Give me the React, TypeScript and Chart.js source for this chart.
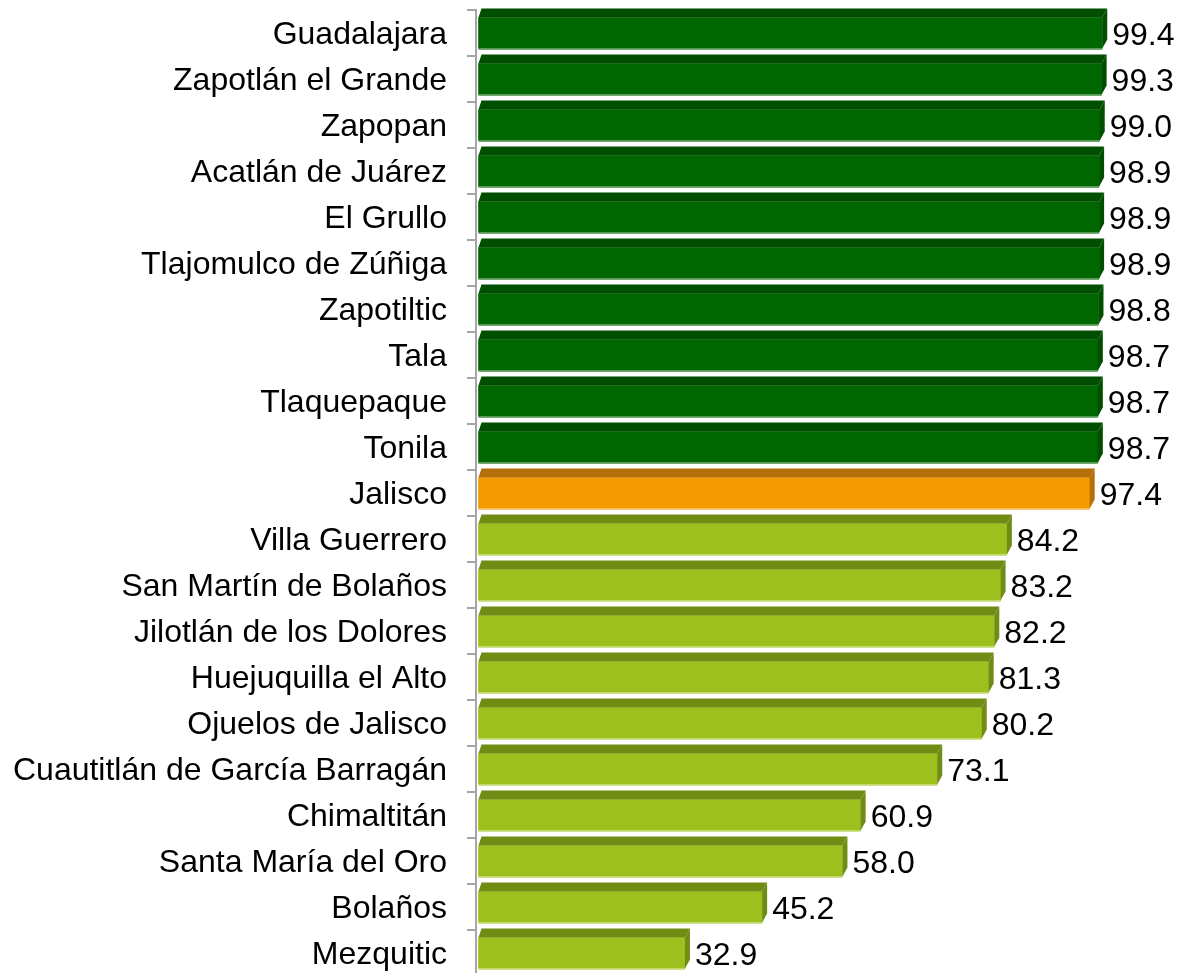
import React, { useEffect, useRef } from "react";
import { Chart, registerables } from "chart.js";

Chart.register(...registerables);

// Municipalities, ordered from highest to lowest, with the state total inserted in place
const municipios: string[] = [
  "Guadalajara",
  "Zapotlán el Grande",
  "Zapopan",
  "Acatlán de Juárez",
  "El Grullo",
  "Tlajomulco de Zúñiga",
  "Zapotiltic",
  "Tala",
  "Tlaquepaque",
  "Tonila",
  "Jalisco",
  "Villa Guerrero",
  "San Martín de Bolaños",
  "Jilotlán de los Dolores",
  "Huejuquilla el Alto",
  "Ojuelos de Jalisco",
  "Cuautitlán de García Barragán",
  "Chimaltitán",
  "Santa María del Oro",
  "Bolaños",
  "Mezquitic",
];

const porcentajes: number[] = [
  99.4, 99.3, 99.0, 98.9, 98.9, 98.9, 98.8, 98.7, 98.7, 98.7, 97.4, 84.2, 83.2,
  82.2, 81.3, 80.2, 73.1, 60.9, 58.0, 45.2, 32.9,
];

const TOP_COUNT = 10;
const STATE_LABEL = "Jalisco";

const FONT = '"Liberation Sans", Arial, sans-serif';
const FONT_SIZE = 32;

// Front, top/side and rim colours for each bar group
const palette = {
  top: { front: "#006600", depth: "#004f00", rim: "#6fa86f" },
  state: { front: "#f39a00", depth: "#b56f08", rim: "#f8c77a" },
  rest: { front: "#9dc01e", depth: "#708c15", rim: "#cfe08a" },
};

function groupOf(i: number) {
  if (municipios[i] === STATE_LABEL) return palette.state;
  if (i < TOP_COUNT) return palette.top;
  return palette.rest;
}

const DX = 5;
const DY = 9;

// Extrudes each bar into a box and writes its value at the end
const boxPlugin = {
  id: "boxBars",
  afterDatasetsDraw(chart: any) {
    const ctx = chart.ctx as CanvasRenderingContext2D;
    const meta = chart.getDatasetMeta(0);
    ctx.save();
    meta.data.forEach((bar: any, i: number) => {
      const { x, y, base, height } = bar.getProps(["x", "y", "base", "height"], true);
      const top = y - height / 2;
      const bottom = y + height / 2;
      const g = groupOf(i);

      // top face
      ctx.fillStyle = g.depth;
      ctx.beginPath();
      ctx.moveTo(base, top);
      ctx.lineTo(base + DX * 0.6, top - DY);
      ctx.lineTo(x + DX, top - DY);
      ctx.lineTo(x, top);
      ctx.closePath();
      ctx.fill();

      // side face
      ctx.beginPath();
      ctx.moveTo(x, top);
      ctx.lineTo(x + DX, top - DY);
      ctx.lineTo(x + DX, bottom - DY);
      ctx.lineTo(x, bottom);
      ctx.closePath();
      ctx.fill();

      // light rim under the front face
      ctx.strokeStyle = g.rim;
      ctx.lineWidth = 1.5;
      ctx.beginPath();
      ctx.moveTo(base, bottom + 0.75);
      ctx.lineTo(x, bottom + 0.75);
      ctx.stroke();

      // value label
      ctx.fillStyle = "#000000";
      ctx.font = `${FONT_SIZE}px ${FONT}`;
      ctx.textAlign = "left";
      ctx.textBaseline = "middle";
      ctx.fillText(porcentajes[i].toFixed(1), x + DX + 5, y + 3);
    });
    ctx.restore();
  },
};

export default function App() {
  const canvasRef = useRef<HTMLCanvasElement | null>(null);

  useEffect(() => {
    document.body.style.margin = "0";
    document.body.style.overflow = "hidden";
    const canvas = canvasRef.current;
    if (!canvas) return;

    const chart = new Chart(canvas, {
      type: "bar",
      data: {
        labels: municipios,
        datasets: [
          {
            data: porcentajes,
            backgroundColor: porcentajes.map((_, i) => groupOf(i).front),
            borderWidth: 0,
            barThickness: 31,
          },
        ],
      },
      options: {
        indexAxis: "y",
        responsive: false,
        animation: false,
        devicePixelRatio: 1,
        layout: { padding: { top: 10, right: 74, bottom: 2, left: 0 } },
        plugins: {
          legend: { display: false },
          tooltip: { enabled: false },
          title: { display: false },
        },
        scales: {
          x: {
            display: false,
            min: -0.4,
            max: 100,
          },
          y: {
            afterFit(scale: any) {
              scale.width = 476;
              scale.paddingTop = 0;
              scale.paddingBottom = 0;
            },
            grid: {
              drawOnChartArea: false,
              drawTicks: true,
              tickLength: 9,
              color: "#a6a6a6",
              lineWidth: 2,
              offset: true,
            },
            border: { display: true, color: "#a6a6a6", width: 2 },
            ticks: {
              color: "#000000",
              padding: 20,
              labelOffset: 2,
              autoSkip: false,
              font: { family: FONT, size: FONT_SIZE },
            },
          },
        },
      },
      plugins: [boxPlugin],
    });

    return () => chart.destroy();
  }, []);

  return (
    <div style={{ width: 1180, height: 978 }}>
      <canvas ref={canvasRef} width={1180} height={978} style={{ display: "block" }} />
    </div>
  );
}
